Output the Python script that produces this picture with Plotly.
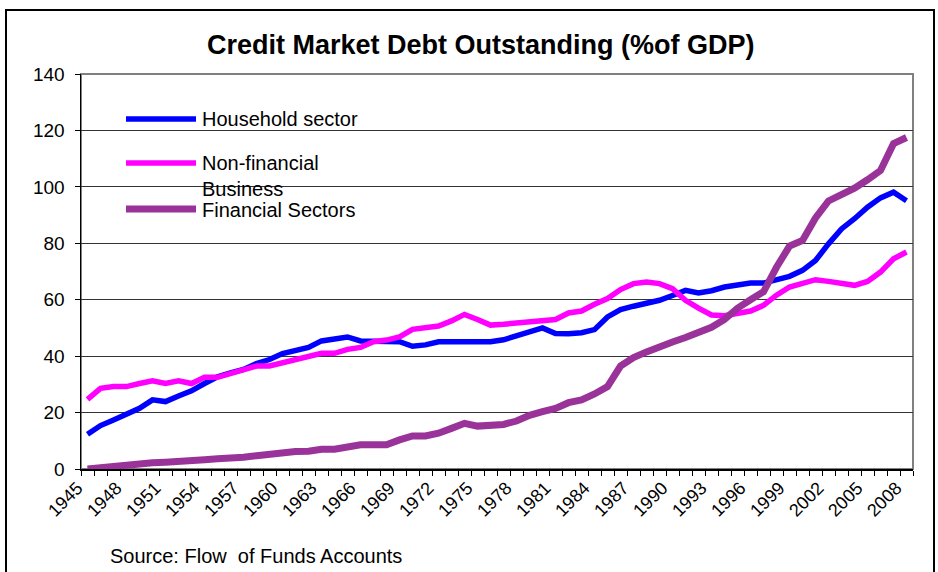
import plotly.graph_objects as go

# ---------------- data ----------------
years = list(range(1945, 2009))

household = [
    12.3, 15.4, 17.4, 19.2, 21.5, 24.5, 23.9, 25.9, 27.7, 30.3,
    32.7, 34.1, 35.3, 37.4, 38.8, 40.9, 42.1, 43.1, 45.4, 46.2,
    46.8, 45.4, 45.4, 45.1, 45.1, 43.5, 44.0, 45.1, 45.1, 45.1,
    45.1, 45.1, 45.8, 47.2, 48.8, 50.0, 48.0, 47.9, 48.3, 49.4,
    53.9, 56.5, 57.7, 58.6, 59.8, 61.5, 63.3, 62.4, 63.2, 64.5,
    65.3, 65.9, 65.9, 66.9, 68.3, 70.4, 73.9, 79.8, 85.1, 88.7,
    92.8, 96.1, 98.1, 95.1,
]

nonfinancial = [
    24.7, 28.6, 29.2, 29.2, 30.3, 31.3, 30.3, 31.3, 30.3, 32.5,
    32.5, 33.9, 34.8, 36.5, 36.5, 37.6, 39.0, 39.8, 41.0, 41.0,
    42.4, 43.1, 45.1, 45.7, 46.8, 49.5, 50.2, 50.7, 52.5, 54.8,
    53.0, 51.0, 51.3, 51.8, 52.3, 52.8, 53.0, 55.3, 56.0, 58.4,
    60.4, 63.6, 65.7, 66.3, 65.7, 63.9, 59.8, 57.0, 54.6, 54.3,
    55.0, 56.0, 58.0, 61.6, 64.5, 66.0, 67.1, 66.5, 65.8, 65.1,
    66.5, 69.8, 74.5, 76.9,
]

financial = [
    0.0, 0.5, 1.1, 1.5, 1.8, 2.2, 2.4, 2.9, 2.9, 3.3,
    3.6, 3.6, 4.2, 4.7, 5.3, 6.0, 6.2, 6.3, 7.0, 7.0,
    8.0, 8.6, 8.6, 8.6, 10.3, 11.7, 11.7, 12.7, 14.4, 16.2,
    15.2, 15.2, 15.8, 17.0, 19.0, 20.3, 21.5, 23.5, 24.5, 26.6,
    29.2, 36.5, 39.5, 41.5, 43.5, 45.0, 46.6, 48.3, 50.2, 53.0,
    57.0, 60.0, 62.8, 71.5, 79.0, 81.0, 89.0, 95.0, 97.2, 99.5,
    102.5, 105.8, 115.3, 117.5,
]

series_names = ["Household sector", "Non-financial<br>Business", "Financial Sectors"]
y_ticks = [0, 20, 40, 60, 80, 100, 120, 140]
x_tick_years = years[::3]

title_text = "Credit Market Debt Outstanding (%of GDP)"
source_text = "Source: Flow\u00a0 of Funds Accounts"

# ---------------- layout geometry ----------------
W, H = 938, 572
L, R, T, B = 81, 913, 74, 469
FONT = "Liberation Sans, Arial, sans-serif"

def fx(px):
    return (px - L) / (R - L)

def fy(py):
    return (B - py) / (B - T)

colors = ["#0000FF", "#FF00FF", "#993399"]
widths = [5.5, 5.5, 7]

fig = go.Figure()
for name, vals, c, w in zip(series_names, [household, nonfinancial, financial], colors, widths):
    fig.add_trace(go.Scatter(
        x=years, y=vals, mode="lines", name=name.replace("<br>", " "),
        line=dict(color=c, width=w), showlegend=False, hoverinfo="skip",
    ))

shapes = []
# plot-area frame (gray)
shapes.append(dict(type="rect", xref="paper", yref="paper", x0=0, x1=1, y0=0, y1=1,
                   line=dict(color="#808080", width=2), layer="below"))
# chart-area border
shapes.append(dict(type="rect", xref="paper", yref="paper",
                   x0=fx(6), x1=fx(934), y0=fy(640), y1=fy(10),
                   line=dict(color="black", width=2)))

annotations = []
# manual legend
legend_y = [119, 163, 209]
text_y = [119, 175.5, 209.5]
for c, w, ly, ty, name in zip(colors, widths, legend_y, text_y, series_names):
    shapes.append(dict(type="line", xref="paper", yref="paper",
                       x0=fx(126), x1=fx(196), y0=fy(ly), y1=fy(ly),
                       line=dict(color=c, width=w)))
    annotations.append(dict(xref="paper", yref="paper", x=fx(200), y=fy(ty),
                            xanchor="left", yanchor="middle", align="left",
                            text=name, showarrow=False,
                            font=dict(family=FONT, size=20, color="black")))

annotations.append(dict(xref="paper", yref="paper", x=fx(481), y=fy(45),
                        xanchor="center", yanchor="middle",
                        text="<b>" + title_text + "</b>", showarrow=False,
                        font=dict(family=FONT, size=27, color="black")))
annotations.append(dict(xref="paper", yref="paper", x=fx(108), y=fy(556),
                        xanchor="left", yanchor="middle",
                        text=source_text, showarrow=False,
                        font=dict(family=FONT, size=20, color="black")))

fig.update_layout(
    width=W, height=H,
    margin=dict(l=L, r=W - R, t=T, b=H - B, pad=0),
    paper_bgcolor="white", plot_bgcolor="white",
    shapes=shapes, annotations=annotations,
    hovermode=False,
    xaxis=dict(
        range=[years[0] - 0.5, years[-1] + 0.5],
        tickmode="array", tickvals=x_tick_years,
        ticktext=[str(y) for y in x_tick_years],
        tickangle=-45, ticks="", showgrid=False, zeroline=False,
        ticklabelshift=-10,
        showline=True, linecolor="black", linewidth=1.5,
        tickfont=dict(family=FONT, size=18, color="black"),
        minor=dict(tickmode="array", tickvals=[y - 0.5 for y in years] + [years[-1] + 0.5],
                   ticks="outside", ticklen=5, tickwidth=1, tickcolor="black", showgrid=False),
        fixedrange=True,
    ),
    yaxis=dict(
        range=[0, 140], tickmode="array", tickvals=y_ticks,
        ticks="outside", ticklen=5, tickwidth=1, tickcolor="black",
        showgrid=True, gridcolor="#333333", gridwidth=1, zeroline=False,
        showline=True, linecolor="black", linewidth=1.5,
        tickfont=dict(family=FONT, size=19, color="black"),
        ticklabelstandoff=6, fixedrange=True,
    ),
)

fig.write_html("out.html", config={"displayModeBar": False, "staticPlot": True},
               post_script="document.body.style.margin='0';document.body.style.overflow='hidden';")
